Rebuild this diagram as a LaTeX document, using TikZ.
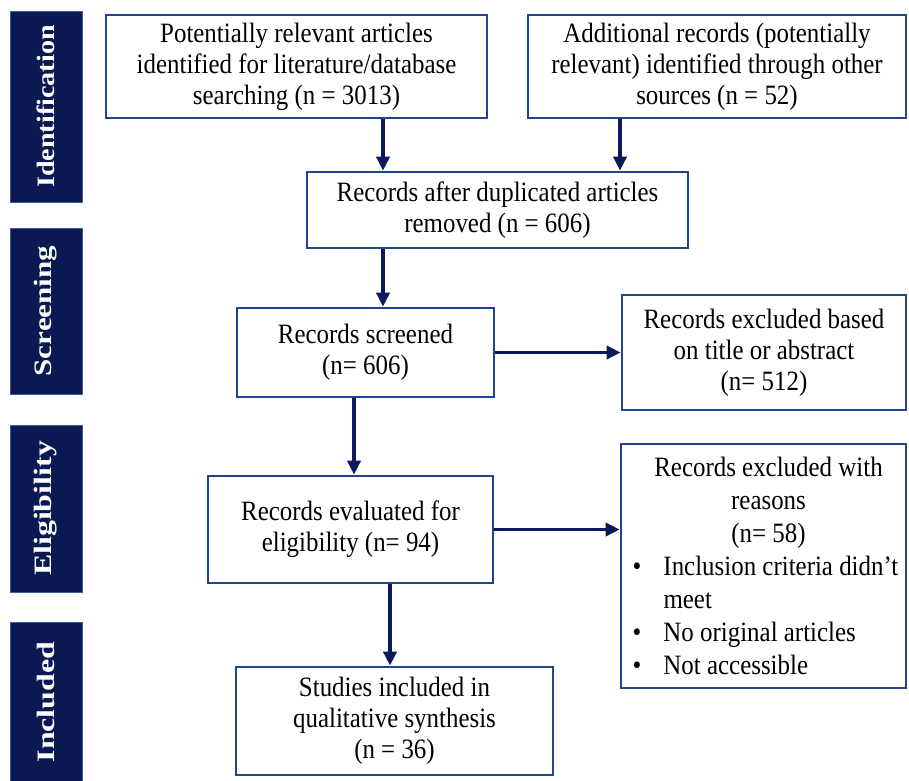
\documentclass[tikz,border=0pt]{standalone}
\usepackage{fontspec}
\setmainfont{Liberation Serif}[FakeStretch=0.89]
\newfontfamily\barfont{Liberation Serif}[FakeStretch=0.9]
\usetikzlibrary{arrows.meta}
\definecolor{boxblue}{RGB}{33,68,145}
\definecolor{arrowblue}{RGB}{12,26,92}
\definecolor{barfill}{RGB}{10,25,82}
\definecolor{baredge}{RGB}{60,95,160}
\tikzset{
  stagebar/.style={rotate=90, fill=barfill, draw=baredge, line width=0.8pt,
    inner sep=0pt, text=white,
    font=\barfont\fontsize{25}{28}\selectfont\bfseries},
  flowbox/.style={draw=boxblue, line width=2.6pt, fill=white, inner sep=0pt,
    align=center, font=\fontsize{28}{31}\selectfont},
  flowarrow/.style={draw=arrowblue, line width=3.6pt,
    -{Triangle[length=14pt,width=13pt]}}
}
\begin{document}
\begin{tikzpicture}[x=1pt,y=-1pt]
\useasboundingbox (0,0) rectangle (909,780);
% stage bars
\node[stagebar, minimum width=191pt, minimum height=72pt] (sid) at (46,106.5) {\scalebox{1.25}[1]{Identification}};
\node[stagebar, minimum width=166pt, minimum height=72pt] (sscr) at (46,311) {\scalebox{1.38}[1]{Screening}};
\node[stagebar, minimum width=167pt, minimum height=72pt] (selig) at (46,508.5) {\scalebox{1.42}[1]{Eligibility}};
\node[stagebar, minimum width=160pt, minimum height=72pt] (sinc) at (46,702) {\scalebox{1.42}[1]{Included}};
% boxes
\node[flowbox, minimum width=381pt, minimum height=103pt] (b1) at (296.5,66.5)
  {Potentially relevant articles\\identified for literature/database\\searching (n = 3013)};
\node[flowbox, minimum width=378pt, minimum height=103pt] (b2) at (717,66.5)
  {Additional records (potentially\\relevant) identified through other\\sources (n = 52)};
\node[flowbox, minimum width=381pt, minimum height=76pt] (b3) at (497.5,210)
  {Records after duplicated articles\\removed (n = 606)};
\node[flowbox, minimum width=257pt, minimum height=89pt] (b4) at (365.5,352.5)
  {Records screened\\(n= 606)};
\node[flowbox, minimum width=284pt, minimum height=115pt] (b5) at (764,352.5)
  {Records excluded based\\on title or abstract\\(n= 512)};
\node[flowbox, minimum width=285pt, minimum height=107pt] (b6) at (350.5,529.5)
  {Records evaluated for\\eligibility (n= 94)};
\node[flowbox, minimum width=285pt, minimum height=244pt, align=left,
  font=\fontsize{28}{33}\selectfont] (b7) at (763.5,566)
  {\makebox[270pt][c]{\hspace*{10pt}Records excluded with}\\
   \makebox[270pt][c]{\hspace*{10pt}reasons}\\
   \makebox[270pt][c]{\hspace*{10pt}(n= 58)}\\
   \makebox[270pt][l]{\hspace*{4pt}\makebox[31pt][l]{•}Inclusion criteria didn’t}\\
   \makebox[270pt][l]{\hspace*{35pt}meet}\\
   \makebox[270pt][l]{\hspace*{4pt}\makebox[31pt][l]{•}No original articles}\\
   \makebox[270pt][l]{\hspace*{4pt}\makebox[31pt][l]{•}Not accessible}};
\node[flowbox, minimum width=317pt, minimum height=108pt] (b8) at (394.5,721)
  {Studies included in\\qualitative synthesis\\(n = 36)};
% arrow columns
\coordinate (c1) at (383,0);
\coordinate (c2) at (620,0);
\coordinate (c3) at (354,0);
\coordinate (c4) at (390,0);
% arrows
\draw[flowarrow] (b1.south -| c1) -- (b3.north -| c1);
\draw[flowarrow] (b2.south -| c2) -- (b3.north -| c2);
\draw[flowarrow] (b3.south -| c1) -- (b4.north -| c1);
\draw[flowarrow] (b4.east) -- (b4.east -| b5.west);
\draw[flowarrow] (b4.south -| c3) -- (b6.north -| c3);
\draw[flowarrow] (b6.east) -- (b6.east -| b7.west);
\draw[flowarrow] (b6.south -| c4) -- (b8.north -| c4);
\end{tikzpicture}
\end{document}
